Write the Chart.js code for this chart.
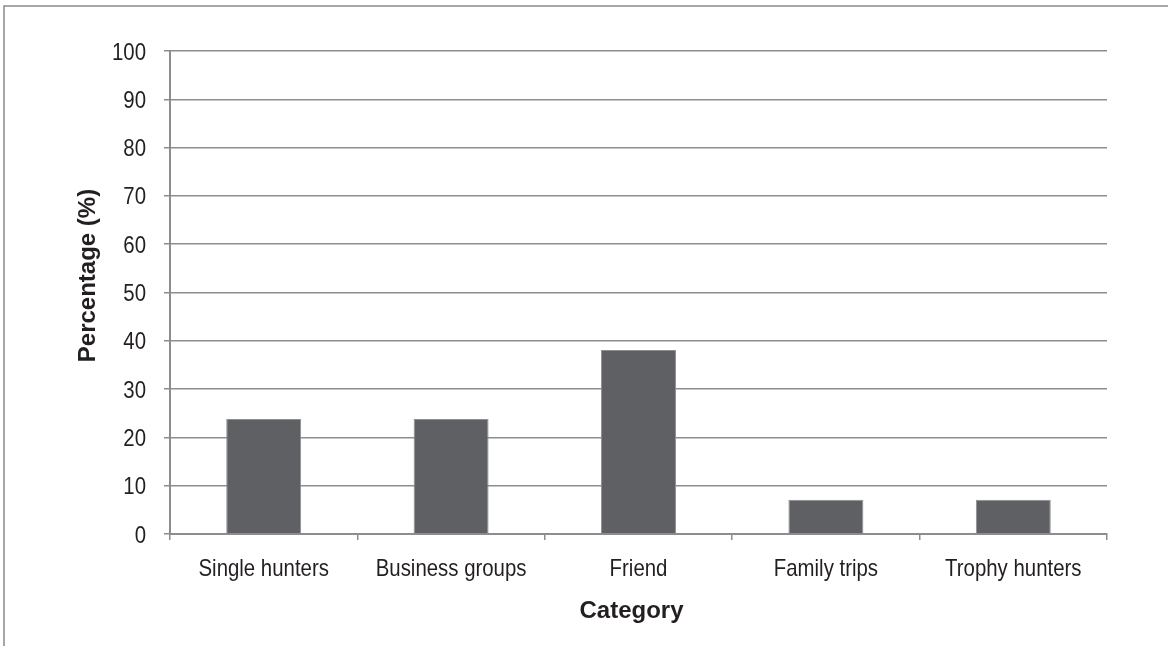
<!DOCTYPE html>
<html>
<head>
<meta charset="utf-8">
<script src="https://cdn.jsdelivr.net/npm/chart.js@4/dist/chart.umd.min.js"></script>
<style>
    html, body { margin: 0; padding: 0; background: #fff; }
    #wrap { position: relative; width: 1168px; height: 646px; }
</style>
</head>
<body>
<div id="wrap"><canvas id="chart"></canvas></div>
<script>
const categories = ["Single hunters", "Business groups", "Friend", "Family trips", "Trophy hunters"];
const percentages = [23.8, 23.8, 38.1, 7.1, 7.1];
const yTicks = [0, 10, 20, 30, 40, 50, 60, 70, 80, 90, 100];
const xTitle = "Category";
const yTitle = "Percentage (%)";

const lineGrey = "#8d8d91";
const textColor = "#231f20";
const labelFont = "24px 'Liberation Sans', Arial, sans-serif";
const titleFont = "bold 24px 'Liberation Sans', Arial, sans-serif";
const squeeze = 0.85; // tick labels in the original are a condensed face

// outer frame (top and left edges only)
const framePlugin = {
    id: "frame",
    beforeDraw(chart) {
        const c = chart.ctx;
        c.save();
        c.fillStyle = "#fff";
        c.fillRect(0, 0, chart.width, chart.height);
        c.strokeStyle = "#8a8a8a";
        c.lineWidth = 1.5;
        c.beginPath();
        c.moveTo(4, chart.height);
        c.lineTo(4, 6);
        c.lineTo(chart.width, 6);
        c.stroke();
        c.restore();
    },
};

// tick labels (condensed) and axis titles, placed from the scales
function squeezedText(c, text, x, y, align) {
    c.save();
    c.translate(x, y);
    c.scale(squeeze, 1);
    c.textAlign = align;
    c.fillText(text, 0, 0);
    c.restore();
}

const labelPlugin = {
    id: "labels",
    afterDraw(chart) {
        const c = chart.ctx;
        const xs = chart.scales.x;
        const ys = chart.scales.y;
        c.save();
        c.fillStyle = textColor;
        c.textBaseline = "alphabetic";
        c.font = labelFont;
        ys.ticks.forEach((t) => {
            squeezedText(c, String(t.value), ys.right - 24, ys.getPixelForValue(t.value) + 8.5, "right");
        });
        categories.forEach((lab, i) => {
            squeezedText(c, lab, xs.getPixelForTick(i), xs.top + 42, "center");
        });

        c.font = titleFont;
        c.textAlign = "center";
        c.fillText(xTitle, (xs.left + xs.right) / 2 - 7, xs.top + 84);
        c.save();
        c.translate(95, (ys.top + ys.bottom) / 2 - 17);
        c.rotate(-Math.PI / 2);
        c.fillText(yTitle, 0, 0);
        c.restore();
        c.restore();
    },
};

const ctx = document.getElementById("chart").getContext("2d");
new Chart(ctx, {
    type: "bar",
    data: {
        labels: categories,
        datasets: [
            {
                data: percentages,
                backgroundColor: "#5f6064",
                borderColor: "#8f8f93",
                borderWidth: 1,
                borderSkipped: "bottom",
                barPercentage: 0.4,
                categoryPercentage: 1,
            },
        ],
    },
    options: {
        responsive: true,
        maintainAspectRatio: false,
        animation: false,
        layout: { padding: { left: 0, right: 61, top: 51, bottom: 0 } },
        plugins: { legend: { display: false }, tooltip: { enabled: false } },
        scales: {
            x: {
                offset: true,
                grid: {
                    offset: true,
                    drawOnChartArea: false,
                    drawTicks: true,
                    tickLength: 6,
                    color: lineGrey,
                    lineWidth: 1.5,
                },
                border: { display: true, color: lineGrey, width: 2 },
                ticks: { display: false },
                afterFit(scale) { scale.height = 112; },
            },
            y: {
                min: 0,
                max: 100,
                afterBuildTicks(scale) { scale.ticks = yTicks.map((v) => ({ value: v })); },
                grid: { color: lineGrey, lineWidth: 1.5, drawTicks: true, tickLength: 6 },
                border: { display: true, color: lineGrey, width: 2 },
                ticks: { display: false },
                afterFit(scale) { scale.width = 170; },
            },
        },
    },
    plugins: [framePlugin, labelPlugin],
});
</script>
</body>
</html>
